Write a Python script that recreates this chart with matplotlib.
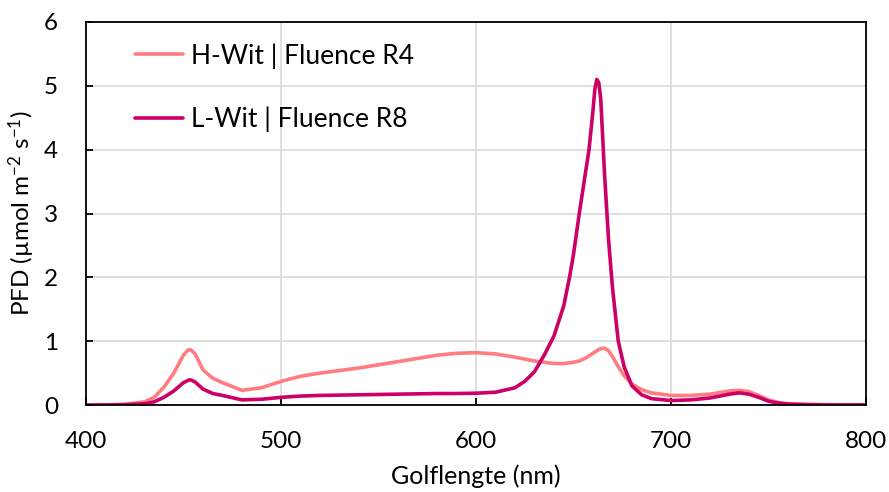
import matplotlib.pyplot as plt

WAVELENGTH = [400, 410, 420, 430, 435, 440, 445, 450, 452, 453, 454, 456, 460, 465, 470, 480, 490,
              500, 510, 520, 530, 540, 550, 560, 570, 580, 590, 600, 610, 620, 625, 630,
              635, 640, 645, 648, 650, 653, 656, 658, 660, 661, 662, 663, 664, 665, 666, 668, 670, 673,
              676, 680, 685, 690, 700, 710, 720, 730, 735, 740, 745, 750, 755, 760, 770,
              780, 790, 800]

H_WIT = [0, 0, 0.01, 0.05, 0.12, 0.28, 0.5, 0.78, 0.85, 0.87, 0.86, 0.8, 0.55, 0.42, 0.35, 0.23, 0.27,
         0.37, 0.45, 0.5, 0.54, 0.58, 0.63, 0.68, 0.73, 0.78, 0.81, 0.82, 0.8, 0.75, 0.72, 0.69,
         0.67, 0.65, 0.65, 0.66, 0.67, 0.69, 0.73, 0.77, 0.81, 0.83, 0.85, 0.87, 0.88, 0.89, 0.89, 0.85, 0.76, 0.6,
         0.46, 0.33, 0.24, 0.19, 0.15, 0.15, 0.17, 0.22, 0.23, 0.21, 0.15, 0.08, 0.04, 0.02, 0.01,
         0.005, 0, 0]

L_WIT = [0, 0, 0.005, 0.02, 0.05, 0.12, 0.22, 0.35, 0.38, 0.395, 0.39, 0.36, 0.25, 0.18, 0.15, 0.08, 0.09,
         0.12, 0.14, 0.15, 0.155, 0.16, 0.165, 0.17, 0.175, 0.18, 0.18, 0.185, 0.2, 0.27, 0.37, 0.52,
         0.78, 1.08, 1.55, 2.0, 2.35, 3.0, 3.6, 4.0, 4.6, 4.95, 5.1, 5.05, 4.8, 4.2, 3.6, 2.6, 1.85, 1.0,
         0.6, 0.3, 0.16, 0.1, 0.07, 0.08, 0.11, 0.17, 0.19, 0.17, 0.12, 0.06, 0.03, 0.015, 0.005,
         0, 0, 0]

LABELS = ['H-Wit | Fluence R4', 'L-Wit | Fluence R8']
COLORS = ['#FF7C80', '#CC0066']

plt.rcParams['font.family'] = ['Lato', 'DejaVu Sans']
plt.rcParams['mathtext.default'] = 'regular'

fig = plt.figure(figsize=(8.89, 4.92), dpi=100)
ax = fig.add_axes([0.0967, 0.1768, 0.8773, 0.7785])

ax.plot(WAVELENGTH, H_WIT, color=COLORS[0], lw=2.6, label=LABELS[0],
        solid_capstyle='round', solid_joinstyle='round')
ax.plot(WAVELENGTH, L_WIT, color=COLORS[1], lw=2.6, label=LABELS[1],
        solid_capstyle='round', solid_joinstyle='round')

ax.set_xlim(400, 800)
ax.set_ylim(0, 6)
ax.set_xticks(range(400, 801, 100))
ax.set_yticks(range(0, 7))
ax.grid(True, color='#D9D9D9', lw=1.2)
ax.set_axisbelow(True)
for s in ax.spines.values():
    s.set_color('black')
    s.set_linewidth(1.3)
ax.tick_params(direction='in', length=5, width=1.3, labelsize=17.5)
ax.tick_params(axis='x', pad=19)
ax.tick_params(axis='y', pad=20)

ax.set_xlabel('Golflengte (nm)', fontsize=18, labelpad=9)
ax.set_ylabel(r'PFD (µmol m$^{-2}$ s$^{-1}$)', fontsize=17.5, labelpad=5)

ax.legend(loc='upper left', bbox_to_anchor=(0.063, 0.945), frameon=False, fontsize=19,
          handlelength=1.82, handletextpad=0.3, labelspacing=1.45, borderpad=0, borderaxespad=0)

fig.savefig('out.png', dpi=100)
